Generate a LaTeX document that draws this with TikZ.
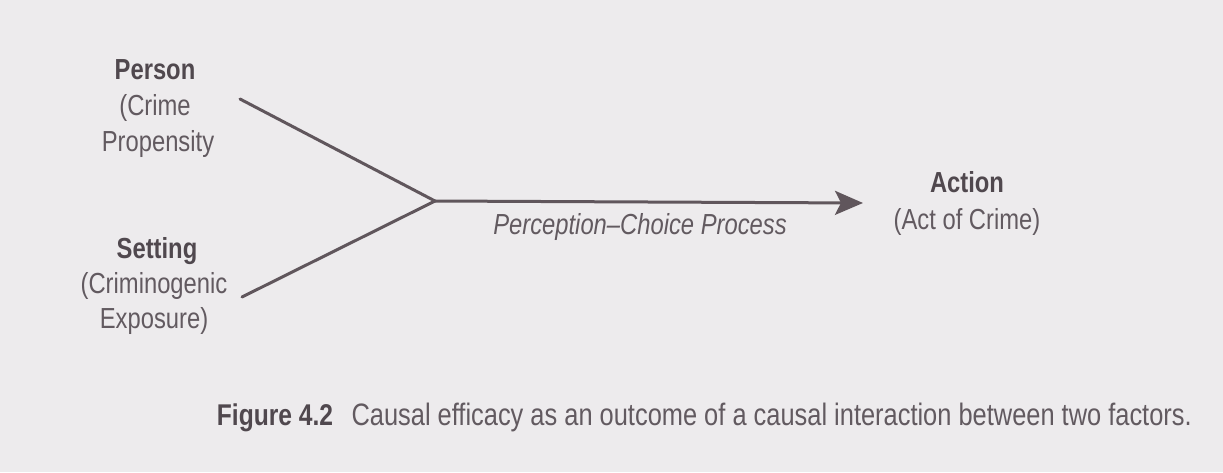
\documentclass[tikz,border=0pt]{standalone}
\usepackage{fontspec}
\setmainfont{Liberation Sans}[FakeStretch=0.82]
\usetikzlibrary{arrows.meta}
\definecolor{bgc}{RGB}{237,235,237}
\definecolor{txt}{RGB}{98,90,96}
\definecolor{txtb}{RGB}{80,72,78}
\definecolor{lnc}{RGB}{96,86,92}
\tikzset{
  lbl/.style={inner sep=0pt, anchor=base, text=txt, font=\fontsize{29}{34}\selectfont},
  lblb/.style={lbl, text=txtb, font=\fontsize{29}{34}\selectfont\bfseries},
  proc/.style={lbl, font=\fontsize{29}{34}\selectfont\itshape},
  captext/.style={inner sep=0pt, anchor=base east, text=txt, font=\fontsize{31}{36}\selectfont},
  captextb/.style={captext, text=txtb, font=\fontsize{30}{36}\selectfont\bfseries},
  conn/.style={draw=lnc, line width=3pt},
}
\begin{document}
\begin{tikzpicture}[x=1pt,y=-1pt]
\fill[bgc] (0,0) rectangle (1223,472);
\useasboundingbox (0,0) rectangle (1223,472);
% left groups
\node[lblb] (person) at (155,79) {Person};
\node[lbl] (crime) at (155,115) {(Crime};
\node[lbl] (prop) at (158,151) {Propensity};
\node[lblb] (setting) at (157,258) {Setting};
\node[lbl] (crimino) at (154,293) {(Criminogenic};
\node[lbl] (expo) at (154,328) {Exposure)};
% right group
\node[lblb] (action) at (967,192) {Action};
\node[lbl] (act) at (967,229) {(Act of Crime)};
% process label
\node[proc] (process) at (640,234) {Perception–Choice Process};
% connectors
\coordinate (ps) at (240,99);
\coordinate (ss) at (242,297);
\coordinate (v) at (435,201);
\coordinate (tip) at (863,203);
\draw[conn, line cap=round] (ps) -- (v) -- (ss);
\draw[conn, -{Stealth[length=28pt,width=24pt,inset=6pt]}] (v) -- (tip);
% caption
\node[captext] (captxt) at (1192,425) {Causal efficacy as an outcome of a causal interaction between two factors.};
\node[captextb] (fig) at ([xshift=-18pt]captxt.base west) {Figure 4.2};
\end{tikzpicture}
\end{document}
